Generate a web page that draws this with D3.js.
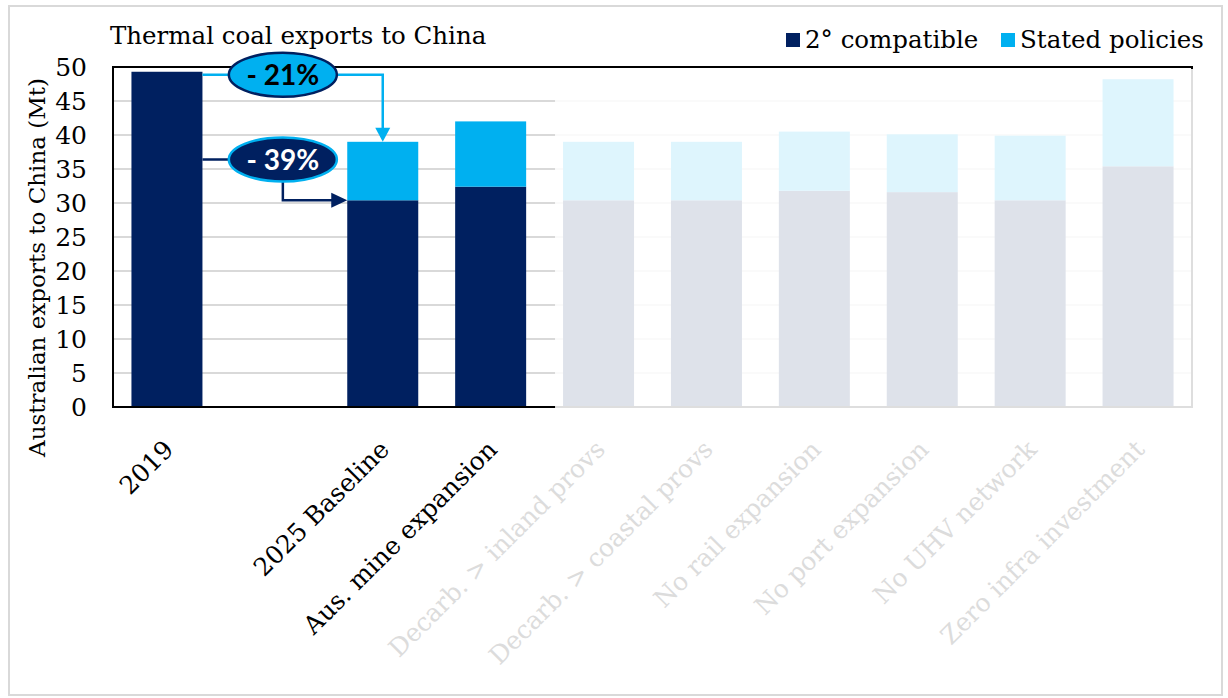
<!DOCTYPE html>
<html><head><meta charset="utf-8">
<script src="https://cdn.jsdelivr.net/npm/d3@7"></script>
<style>
html,body{margin:0;padding:0;background:#fff;}
svg{display:block;}
</style></head>
<body>
<svg id="chart" width="1228" height="698"></svg>
<script>
const categories = ["2019", "", "2025 Baseline", "Aus. mine expansion", "Decarb. > inland provs", "Decarb. > coastal provs", "No rail expansion", "No port expansion", "No UHV network", "Zero infra investment"];
const compatible = [49.3, null, 30.4, 32.4, 30.4, 30.4, 31.8, 31.6, 30.4, 35.4];
const statedExtra = [0, null, 8.6, 9.6, 8.6, 8.6, 8.7, 8.5, 9.5, 12.8];
const seriesNames = ["2° compatible", "Stated policies"];
const yTicks = [0, 5, 10, 15, 20, 25, 30, 35, 40, 45, 50];
const annotationLabels = ["- 21%", "- 39%"];
const annotationLevel39 = 36.4;
const fadedFrom = 4;

const navy = "#002060", cyan = "#00B0F0";
const serif = "'DejaVu Serif', serif";
const svg = d3.select("#chart");
const m = {left: 113, top: 67, right: 1192, bottom: 407};

// outer border
svg.append("rect").attr("x", 9).attr("y", 6).attr("width", 1213).attr("height", 689)
  .attr("fill", "#fff").attr("stroke", "#d9d9d9").attr("stroke-width", 2);

const x = d3.scaleBand().domain(categories).range([m.left, m.right]).paddingInner(0.342).paddingOuter(0.171);
const y = d3.scaleLinear().domain([0, 50]).range([m.bottom, m.top]);

// gridlines
svg.append("g").selectAll("line").data(yTicks.slice(1, -1)).join("line")
  .attr("x1", m.left).attr("x2", m.right)
  .attr("y1", d => y(d)).attr("y2", d => y(d))
  .attr("stroke", "#d9d9d9").attr("stroke-width", 2);

// stacked bars
const rows = categories.map((c, i) => ({cat: c, a: compatible[i] || 0, b: statedExtra[i] || 0}));
const stack = d3.stack().keys(["a", "b"])(rows);
const colors = [navy, cyan];
svg.append("g").selectAll("g").data(stack).join("g")
  .attr("fill", (d, i) => colors[i])
  .selectAll("rect").data(d => d.filter(v => v[1] - v[0] > 0)).join("rect")
  .attr("x", d => x(d.data.cat)).attr("width", x.bandwidth())
  .attr("y", d => y(d[1])).attr("height", d => y(d[0]) - y(d[1]));

// frame
svg.append("rect").attr("x", m.left).attr("y", m.top).attr("width", m.right - m.left).attr("height", m.bottom - m.top)
  .attr("fill", "none").attr("stroke", "#000").attr("stroke-width", 2);

// faded overlay over the scenario bars (plot area only)
const fx = x(categories[fadedFrom]) - 8;
svg.append("rect").attr("x", fx).attr("y", m.top + 2).attr("width", m.right + 3 - fx).attr("height", m.bottom + 3 - m.top - 2)
  .attr("fill", "#fff").attr("opacity", 0.87);

// y axis tick labels
const yAxis = d3.axisLeft(y).tickValues(yTicks).tickSize(0).tickPadding(26);
const gy = svg.append("g").attr("transform", `translate(${m.left},0)`).call(yAxis);
gy.select(".domain").remove();
gy.selectAll("text").attr("font-family", serif).attr("font-size", 25).attr("fill", "#000");

// x axis labels
const xAxis = d3.axisBottom(x).tickSize(0).tickPadding(0);
const gx = svg.append("g").attr("transform", `translate(0,${m.bottom})`).call(xAxis);
gx.select(".domain").remove();
gx.selectAll("text")
  .attr("font-family", serif).attr("font-size", 25)
  .attr("fill", (d, i) => i >= fadedFrom ? "#dcdcdc" : "#000")
  .attr("text-anchor", "end").attr("dy", 0).attr("y", 0)
  .attr("transform", "translate(8,44) rotate(-45)");

// y axis title
svg.append("text").attr("transform", `translate(45,${(80 + 455) / 2}) rotate(-90)`)
  .attr("text-anchor", "middle").attr("font-family", serif).attr("font-size", 23).attr("fill", "#000")
  .text("Australian exports to China (Mt)");

// title
svg.append("text").attr("x", 110).attr("y", 44).attr("font-family", serif).attr("font-size", 24.5)
  .attr("fill", "#000").text("Thermal coal exports to China");

// legend
const legend = svg.append("g");
const legX = [786, 1001];
seriesNames.forEach((s, i) => {
  legend.append("rect").attr("x", legX[i]).attr("y", 33).attr("width", 14).attr("height", 14).attr("fill", colors[i]);
  legend.append("text").attr("x", legX[i] + 19).attr("y", 48).attr("font-family", serif).attr("font-size", 24.5)
    .attr("fill", "#000").text(s);
});

// annotations
const ann = svg.append("g");
const x19r = x(categories[0]) + x.bandwidth();
const cx = x(categories[1]) + x.bandwidth() / 2 + 8;
const rx = 54, ry = 22;
const xb = x(categories[2]) + x.bandwidth() / 2;
const y21 = y(compatible[0]) + 3;
const yTot = y(compatible[2] + statedExtra[2]);
// -21% connector
ann.append("path").attr("fill", "none").attr("stroke", cyan).attr("stroke-width", 2.5)
  .attr("d", `M${x19r},${y21}H${cx}M${cx},${y21}H${xb}V${yTot - 12}`);
ann.append("path").attr("fill", cyan)
  .attr("d", `M${xb - 7.5},${yTot - 14}L${xb + 7.5},${yTot - 14}L${xb},${yTot}Z`);
// -39% connector
const y39 = y(annotationLevel39);
const yDark = y(compatible[2]);
const xbl = x(categories[2]);
ann.append("path").attr("fill", "none").attr("stroke", navy).attr("stroke-width", 2.5)
  .attr("d", `M${x19r},${y39}H${cx}V${yDark}H${xbl - 12}`);
ann.append("path").attr("fill", navy)
  .attr("d", `M${xbl - 16},${yDark - 7.5}L${xbl - 16},${yDark + 7.5}L${xbl},${yDark}Z`);
// ellipses
const ells = [
  {cy: y21, fill: cyan, stroke: navy, tc: "#000"},
  {cy: y39, fill: navy, stroke: cyan, tc: "#fff"}
];
ells.forEach((e, i) => {
  ann.append("ellipse").attr("cx", cx).attr("cy", e.cy).attr("rx", rx).attr("ry", ry)
    .attr("fill", e.fill).attr("stroke", e.stroke).attr("stroke-width", 2.5);
  ann.append("text").attr("x", cx).attr("y", e.cy).attr("dy", "0.36em").attr("text-anchor", "middle")
    .attr("font-family", "Lato, 'Liberation Sans', sans-serif").attr("font-weight", "bold").attr("font-size", 28)
    .attr("fill", e.tc).text(annotationLabels[i]);
});
</script>
</body></html>
